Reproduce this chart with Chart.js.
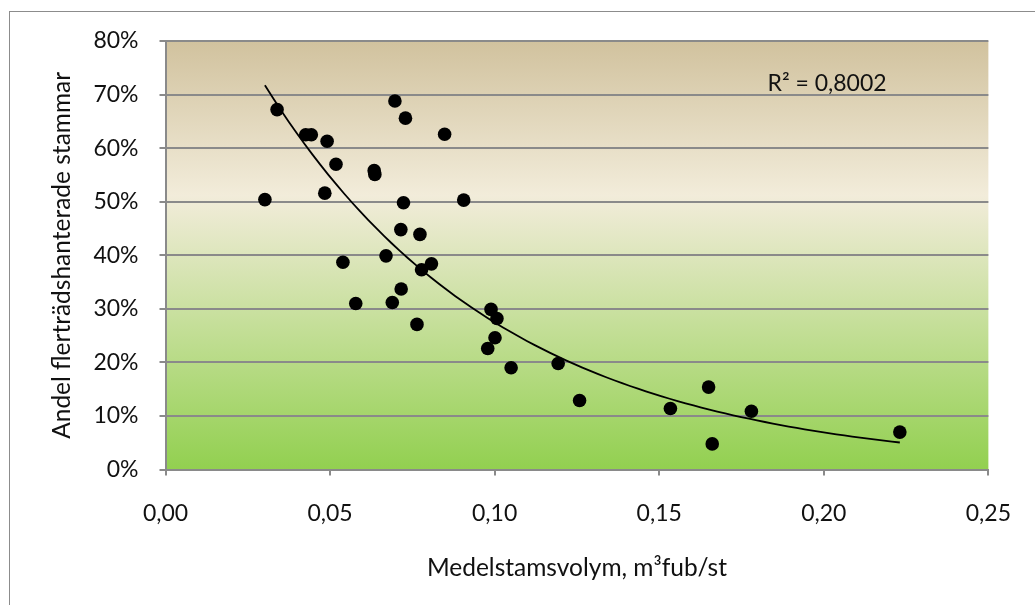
<!DOCTYPE html>
<html>
<head>
<meta charset="utf-8">
<script src="https://cdn.jsdelivr.net/npm/chart.js@4.4.1/dist/chart.umd.min.js"></script>
<style>
  html, body { margin: 0; padding: 0; background: #fff; }
  #wrap { position: relative; width: 1035px; height: 605px; overflow: hidden; }
  #frame { position: absolute; left: 9px; top: 11px; width: 1040px; height: 610px; border: 1px solid #8c8c8c; box-sizing: border-box; pointer-events: none; }
  canvas { position: absolute; left: 0; top: 0; }
</style>
</head>
<body>
<div id="wrap">
  <canvas id="myChart" width="1035" height="605"></canvas>
  <div id="frame"></div>
</div>
<script>
// medelstamsvolym (m3fub/st) and andel flerträdshanterade stammar (%)
const volumes = [0.0302, 0.0339, 0.0426, 0.0443, 0.0484, 0.0491, 0.0518, 0.0539, 0.0578,
  0.0634, 0.0636, 0.0670, 0.0689, 0.0697, 0.0715, 0.0716, 0.0723, 0.0729, 0.0764, 0.0773,
  0.0778, 0.0808, 0.0848, 0.0906, 0.0979, 0.0989, 0.1001, 0.1007, 0.1050, 0.1193, 0.1258,
  0.1534, 0.1650, 0.1661, 0.1780, 0.2231];
const shares = [50.4, 67.2, 62.5, 62.5, 51.6, 61.3, 57.0, 38.7, 31.0,
  55.8, 55.1, 39.9, 31.2, 68.8, 44.8, 33.7, 49.8, 65.6, 27.1, 43.9,
  37.3, 38.4, 62.6, 50.3, 22.6, 29.9, 24.6, 28.2, 19.0, 19.8, 12.9,
  11.4, 15.4, 4.8, 10.9, 7.0];
const rSquaredLabel = "R² = 0,8002";

const xMin = 0, xMax = 0.25, xStep = 0.05;
const yMin = 0, yMax = 80, yStep = 10;

Chart.defaults.font.family = "Lato";
Chart.defaults.font.size = 23;
Chart.defaults.color = "#111";

const points = volumes.map((v, i) => ({ x: v, y: shares[i] }));

// exponential trendline (least squares on ln y), like Excel
function expTrend(xs, ys) {
  const n = xs.length;
  let sx = 0, sy = 0, sxx = 0, sxy = 0;
  for (let i = 0; i < n; i++) {
    const ly = Math.log(ys[i]);
    sx += xs[i]; sy += ly; sxx += xs[i] * xs[i]; sxy += xs[i] * ly;
  }
  const b = (n * sxy - sx * sy) / (n * sxx - sx * sx);
  const a = Math.exp((sy - b * sx) / n);
  const lo = Math.min(...xs), hi = Math.max(...xs);
  const out = [];
  for (let k = 0; k <= 80; k++) {
    const x = lo + (hi - lo) * k / 80;
    out.push({ x: x, y: a * Math.exp(b * x) });
  }
  return out;
}
const trend = expTrend(volumes, shares);

const plotBackground = {
  id: "plotBackground",
  beforeDraw(chart) {
    const { ctx, chartArea: { left, top, right, bottom } } = chart;
    const g = ctx.createLinearGradient(0, top, 0, bottom);
    g.addColorStop(0, "#d1c29e");
    g.addColorStop(0.36, "#f2ecda");
    g.addColorStop(1, "#92d050");
    ctx.save();
    ctx.fillStyle = g;
    ctx.fillRect(left, top, right - left, bottom - top);
    ctx.restore();
  }
};

const rLabel = {
  id: "rLabel",
  afterDatasetsDraw(chart) {
    const { ctx, chartArea } = chart;
    ctx.save();
    ctx.font = "23px Lato";
    ctx.fillStyle = "#111";
    ctx.textAlign = "left";
    ctx.textBaseline = "middle";
    ctx.fillText(rSquaredLabel, chartArea.left + 602, chartArea.top + 43);
    ctx.restore();
  }
};

const gridGray = "#8a8a8a";

new Chart(document.getElementById("myChart").getContext("2d"), {
  type: "scatter",
  data: {
    datasets: [
      {
        label: "Andel",
        data: points,
        backgroundColor: "#000",
        borderWidth: 0,
        pointRadius: 6.8,
        pointHoverRadius: 6.8,
        order: 1
      },
      {
        type: "line",
        label: "Trend",
        data: trend,
        borderColor: "#000",
        borderWidth: 1.8,
        pointRadius: 0,
        tension: 0,
        fill: false,
        order: 2
      }
    ]
  },
  options: {
    responsive: false,
    animation: false,
    layout: { padding: { top: 41, right: 41, left: 0, bottom: 0 } },
    plugins: {
      legend: { display: false },
      tooltip: { enabled: false }
    },
    scales: {
      x: {
        type: "linear",
        min: xMin,
        max: xMax,
        afterFit: (s) => { s.height = 135.4; },
        ticks: {
          stepSize: xStep,
          padding: 24,
          callback: (v) => v.toFixed(2).replace(".", ",")
        },
        grid: { drawOnChartArea: false, drawTicks: true, tickLength: 6, color: gridGray, lineWidth: 2 },
        border: { display: true, color: gridGray, width: 2 },
        title: {
          display: true,
          text: "Medelstamsvolym, m³fub/st",
          font: { size: 24.5 },
          padding: { top: 0, bottom: 22 }
        }
      },
      y: {
        min: yMin,
        max: yMax,
        afterFit: (s) => { s.width = 165.5; },
        ticks: {
          stepSize: yStep,
          padding: 21,
          callback: (v) => v + "%"
        },
        grid: { drawTicks: true, tickLength: 6, color: gridGray, lineWidth: 2 },
        border: { display: true, color: gridGray, width: 2 },
        title: {
          display: true,
          text: "Andel flerträdshanterade stammar",
          font: { size: 24.5 },
          padding: { top: 47, bottom: 0 }
        }
      }
    }
  },
  plugins: [plotBackground, rLabel]
});
</script>
</body>
</html>
